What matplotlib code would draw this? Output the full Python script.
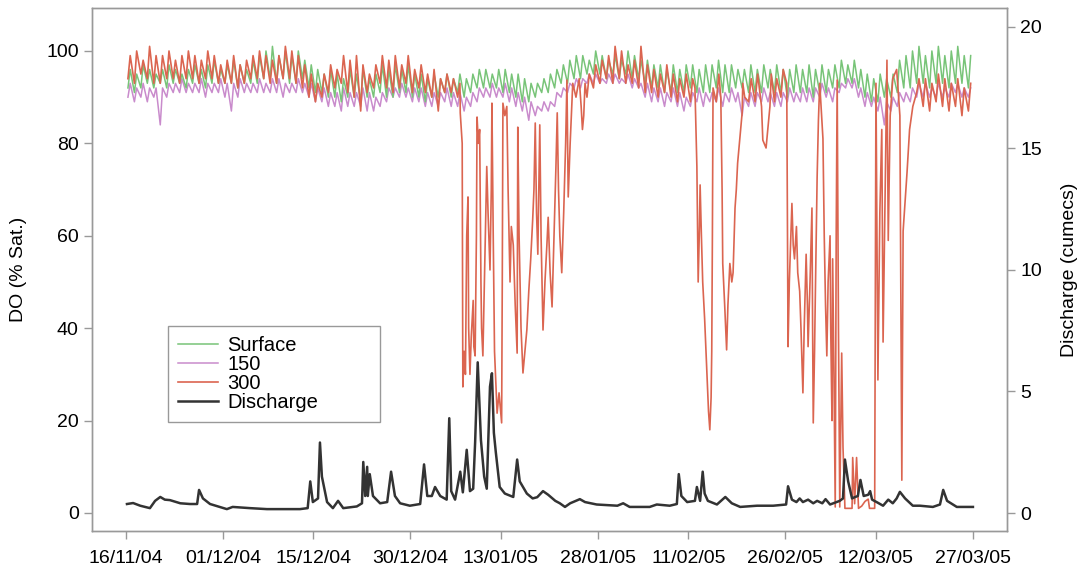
import pandas as pd
import matplotlib
matplotlib.use("Agg")
import matplotlib.pyplot as plt

plt.rcParams['font.family'] = ['Liberation Sans', 'DejaVu Sans']

start = pd.Timestamp("2004-11-16")

tick_labels = ["16/11/04", "01/12/04", "15/12/04", "30/12/04", "13/01/05",
               "28/01/05", "11/02/05", "26/02/05", "12/03/05", "27/03/05"]

# Surface: daily peak / trough (% sat), day 0..130
surface_peak = [96, 95, 97, 96, 95, 96, 97, 96, 95, 96, 97, 96, 97, 98, 96,
                97, 98, 97, 96, 98, 99, 100, 101, 99, 100, 99, 100, 98, 97, 96,
                95, 96, 95, 94, 96, 95, 96, 94, 95, 97, 96, 97, 96, 97, 95,
                95, 94, 95, 94, 95, 94, 95, 94, 95, 96, 96, 95, 96, 96, 95,
                95, 94, 93, 93, 94, 95, 96, 97, 98, 99, 99, 98, 100, 99, 98,
                99, 98, 100, 99, 98, 98, 97, 97, 96, 97, 96, 97, 97, 96, 97,
                97, 98, 97, 97, 96, 96, 97, 96, 97, 96, 97, 96, 96, 97, 96,
                97, 96, 97, 96, 97, 98, 97, 98, 96, 95, 94, 95, 94, 95, 98,
                99, 100, 101, 99, 100, 101, 99, 100, 101, 99, 99]
surface_trough = [92, 91, 92, 93, 92, 93, 92, 93, 93, 92, 93, 93, 92, 93, 93,
                  93, 93, 92, 93, 93, 93, 94, 94, 93, 94, 93, 93, 94, 92, 91,
                  91, 90, 90, 89, 90, 90, 89, 90, 90, 91, 90, 90, 91, 91, 90,
                  90, 89, 90, 90, 91, 90, 91, 90, 91, 92, 92, 92, 92, 91, 91,
                  90, 89, 89, 90, 91, 91, 92, 93, 93, 94, 94, 95, 95, 95, 94,
                  95, 94, 95, 94, 94, 93, 92, 92, 91, 91, 91, 91, 92, 91, 91,
                  91, 92, 91, 91, 92, 92, 91, 91, 91, 92, 91, 91, 90, 91, 91,
                  91, 90, 91, 91, 92, 92, 93, 93, 92, 90, 89, 89, 90, 90, 91,
                  92, 92, 93, 93, 92, 93, 93, 92, 93, 93, 92]

# 150 mm depth: daily peak / trough
d150_peak = [93, 92, 93, 92, 92, 92, 93, 93, 94, 93, 93, 94, 93, 93, 94,
             93, 93, 94, 93, 93, 94, 93, 94, 94, 93, 93, 94, 93, 93, 92,
             92, 91, 91, 92, 91, 91, 92, 91, 90, 91, 92, 92, 93, 92, 92,
             92, 91, 91, 91, 92, 91, 91, 90, 91, 92, 92, 93, 92, 93, 92,
             91, 90, 89, 88, 89, 89, 91, 92, 93, 94, 94, 95, 95, 94, 95,
             95, 94, 95, 94, 93, 93, 92, 92, 91, 92, 91, 90, 91, 92, 91,
             91, 92, 91, 92, 91, 90, 91, 91, 92, 91, 91, 91, 92, 91, 92,
             92, 92, 93, 92, 92, 93, 94, 94, 92, 91, 90, 90, 89, 90, 91,
             91, 92, 93, 93, 92, 93, 92, 93, 93, 92, 92]
d150_trough = [90, 89, 90, 89, 90, 84, 90, 91, 91, 91, 91, 91, 90, 91, 91,
               90, 87, 90, 91, 91, 91, 91, 91, 91, 90, 91, 91, 91, 90, 89,
               89, 88, 88, 87, 88, 88, 88, 87, 87, 88, 89, 90, 90, 90, 89,
               89, 88, 88, 88, 89, 88, 88, 87, 88, 89, 90, 90, 90, 90, 89,
               88, 87, 85, 86, 87, 87, 88, 90, 91, 92, 92, 93, 93, 93, 93,
               93, 93, 93, 92, 92, 90, 89, 89, 88, 89, 88, 87, 88, 89, 88,
               89, 89, 88, 89, 89, 86, 88, 88, 89, 89, 88, 88, 89, 89, 89,
               89, 89, 90, 90, 89, 91, 92, 92, 90, 88, 88, 87, 84, 87, 88,
               89, 89, 90, 90, 90, 90, 90, 90, 91, 90, 90]

# 300 mm depth: diel periods (first day, peaks, troughs) and low-DO episodes
red_a_start = 0
red_a_peak = [99, 100, 98, 101, 99, 99, 100, 98, 99, 100, 99, 98, 100, 99, 97,
              98, 99, 97, 98, 99, 100, 99, 98, 99, 101, 100, 99, 97, 95, 93,
              95, 97, 96, 99, 98, 99, 97, 95, 97, 99, 98, 99, 97, 99, 96,
              97, 95, 96, 94, 95, 94, 93]
red_a_trough = [94, 93, 95, 94, 93, 93, 94, 94, 93, 94, 94, 93, 94, 94, 93,
                93, 93, 92, 93, 94, 94, 94, 93, 93, 94, 94, 93, 92, 90, 89,
                90, 91, 92, 93, 91, 90, 87, 91, 92, 93, 92, 91, 92, 93, 91,
                92, 91, 90, 87, 91, 91, 90]
red_b_start = 71
red_b_peak = [95, 97, 98, 99, 101, 100, 97, 98, 101, 97, 96, 95, 97, 95, 94, 95, 94]
red_b_trough = [90, 92, 93, 94, 93, 94, 93, 93, 92, 91, 91, 90, 91, 90, 89, 90, 89]
red_c_start = 100
red_c_peak = [94, 96]
red_c_trough = [89, 90]
red_d_start = 123
red_d_peak = [94, 93, 95, 94, 93, 94, 92, 93]
red_d_trough = [88, 87, 89, 88, 87, 88, 86, 87]

dip1_days = [51.7, 51.9, 52.0, 52.1, 52.3, 52.5, 52.7, 52.9, 53.0, 53.2, 53.4,
             53.7, 53.8, 54.0, 54.2, 54.3, 54.5, 54.7, 54.9, 55.0, 55.2, 55.4,
             55.6, 55.8, 56.0, 56.3, 56.5, 56.6, 56.8, 57.0, 57.2, 57.4, 57.7,
             58.1, 58.2, 58.3, 58.6, 58.9, 59.1, 59.4, 59.6, 59.9, 60.2, 60.5,
             60.6, 60.8, 61.1, 61.4, 61.7, 62.0, 62.3, 62.6, 62.9, 63.1, 63.3,
             63.5, 63.7, 63.9, 64.0, 64.2, 64.5, 64.8, 65.1, 65.3, 65.6, 65.9,
             66.2, 66.5, 66.7, 66.9, 67.1, 67.4, 67.7, 68.0, 68.2, 68.4, 68.7,
             69.1, 69.6, 70.1, 70.4, 70.6, 70.8, 71.0]
dip1_vals = [86.6, 82, 80, 27.3, 35, 30, 60, 68.4, 40, 30, 38,
             46, 36, 34, 60, 85.7, 80, 83, 50, 40, 34, 48,
             62, 75, 65, 52.6, 70, 88.7, 60, 35, 28, 21.6, 26,
             19.5, 50, 88.7, 86, 88, 70, 50, 62, 58, 45, 34.6,
             83.5, 60, 40, 30.3, 35, 39.6, 48, 55, 63.4, 70, 84.4,
             65, 56, 75, 84, 60, 39.6, 50, 58, 64, 52, 44.6,
             60, 75, 86.6, 70, 60, 52, 65, 80, 93.7, 68.4, 80,
             93, 90, 94, 88, 83, 86, 93]
dip2_days = [88.0, 88.3, 88.5, 88.7, 88.8, 89.0, 89.2, 89.5, 89.9, 90.1, 90.3,
             90.5, 90.6, 90.7, 90.8, 91.3, 91.7, 92.0, 92.2, 92.3, 92.6, 92.9,
             93.1, 93.4, 93.7, 93.9, 94.2, 94.4, 94.6, 95.0, 95.3, 95.4, 95.7,
             96.3, 96.7, 97.3, 97.7, 98.3, 98.5, 99.0, 99.6, 99.8]
dip2_vals = [92, 75, 50, 62, 71, 60, 50, 42, 28.8, 22, 18,
             25, 35, 60, 92, 89, 95, 90, 70, 54, 45, 35.3,
             45, 54, 50, 52, 66, 70, 75.7, 82, 86.6, 93, 90,
             89, 94, 89, 95, 88, 80.7, 79, 88, 95]
dip3_days = [102.2, 102.4, 102.6, 103.0, 103.2, 103.4, 103.7, 103.9, 104.2,
             104.4, 104.7, 104.9, 105.2, 105.4, 105.5, 105.8, 106.1, 106.2,
             106.3, 106.5, 106.6, 106.9, 107.1, 107.3, 107.6, 107.8, 108.0,
             108.2, 108.4, 108.6, 108.9, 109.0, 109.2, 109.3, 109.5, 109.7,
             109.85, 110.0, 110.2, 110.4, 110.7, 110.9, 111.2, 112.3, 112.4,
             112.7, 113.0, 113.3, 113.8, 114.3, 114.8, 115.0, 115.8, 116.0,
             116.3, 116.6, 116.9, 117.1, 117.7, 117.9, 118.2, 118.6, 119.2,
             119.7, 120.0, 120.2, 120.8, 121.2, 121.7, 122.3, 122.65]
dip3_vals = [93, 36, 50, 67, 58, 55, 62, 52, 48,
             40, 26, 40, 56, 45, 36, 50, 66, 40,
             19.5, 35, 45, 72.7, 85, 93, 86, 81, 60,
             45, 34, 50, 60, 40, 20, 55, 30, 1.3,
             60, 93.7, 40, 1.3, 34.6, 14.3, 1, 1, 12,
             2, 12, 1, 1.5, 2.5, 3, 1, 1, 93,
             28.8, 65, 83, 37, 98, 59, 86, 94, 96,
             86, 7.1, 61, 73.6, 83, 88, 91, 94]

# Discharge (cumecs)
q_days = [0.15, 1.1, 2.2, 3.7, 4.5, 5.3, 6.0, 6.8, 8.4, 9.9, 11.0, 11.3, 11.9,
          13.0, 15.6, 16.5, 19.2, 21.8, 26.9, 28.1, 28.5, 28.9, 29.7, 30.0,
          30.3, 31.1, 32.0, 32.8, 33.6, 35.7, 36.5, 36.7, 37.0, 37.3, 37.4,
          37.7, 38.2, 39.3, 40.4, 41.0, 41.6, 42.4, 43.9, 45.5, 46.1, 46.6,
          47.3, 47.8, 48.6, 49.6, 50.0, 50.3, 50.9, 51.7, 52.1, 52.7, 53.2,
          53.7, 54.0, 54.4, 54.9, 55.4, 55.8, 56.3, 56.6, 56.9, 57.2, 57.8,
          58.6, 59.9, 60.5, 60.9, 62.0, 62.9, 63.6, 64.5, 65.3, 66.4, 67.1,
          67.9, 68.7, 70.2, 71.0, 72.8, 76.0, 76.9, 77.9, 81.0, 82.1, 84.1,
          85.2, 85.5, 85.9, 86.8, 88.0, 88.3, 88.8, 89.2, 89.5, 90.0, 91.4,
          92.7, 93.7, 95.0, 97.6, 100.1, 102.1, 102.4, 103.0, 103.7, 104.2,
          104.7, 105.5, 106.3, 106.9, 107.7, 108.2, 108.9, 110.4, 110.9,
          111.2, 111.7, 112.3, 112.7, 113.2, 113.6, 114.1, 114.8, 115.1,
          115.4, 116.1, 117.1, 117.9, 118.6, 119.2, 119.7, 120.5, 121.7,
          122.8, 124.8, 125.9, 126.4, 127.0, 128.5, 131.0]
q_vals = [0.37, 0.41, 0.3, 0.2, 0.5, 0.66, 0.55, 0.53, 0.4, 0.37, 0.37, 0.95, 0.6,
          0.37, 0.16, 0.25, 0.2, 0.16, 0.16, 0.2, 1.3, 0.45, 0.6, 2.9,
          1.5, 0.45, 0.2, 0.5, 0.2, 0.27, 0.4, 2.1, 0.7, 1.9, 0.7,
          1.6, 0.7, 0.4, 0.45, 1.7, 0.7, 0.4, 0.3, 0.37, 2.0, 0.7,
          0.7, 1.07, 0.7, 0.55, 3.9, 0.9, 0.55, 1.7, 0.85, 2.6, 0.9,
          1.0, 2.9, 6.2, 3.0, 1.5, 1.0, 5.2, 5.75, 3.3, 2.5, 1.07,
          0.8, 0.66, 2.2, 1.3, 0.8, 0.6, 0.65, 0.9, 0.75, 0.5, 0.4,
          0.25, 0.4, 0.57, 0.45, 0.35, 0.3, 0.4, 0.25, 0.25, 0.35, 0.3,
          0.37, 1.6, 0.7, 0.45, 0.5, 1.07, 0.5, 1.7, 0.8, 0.5, 0.35,
          0.66, 0.4, 0.25, 0.3, 0.3, 0.35, 1.1, 0.55, 0.45, 0.6,
          0.45, 0.55, 0.4, 0.5, 0.4, 0.57, 0.35, 0.5, 0.6,
          2.2, 1.3, 0.6, 0.65, 0.7, 1.36, 0.7, 0.75, 0.9,
          0.55, 0.45, 0.3, 0.55, 0.4, 0.6, 0.87, 0.6, 0.3,
          0.3, 0.25, 0.35, 0.95, 0.5, 0.25, 0.25]


def diel(first_day, peaks, troughs):
    days, vals = [], []
    for i, (p, t) in enumerate(zip(peaks, troughs)):
        days += [first_day + i + 0.3, first_day + i + 0.65]
        vals += [t, p]
    return days, vals


def to_dates(days):
    return start + pd.to_timedelta(days, unit="D")


s_days, s_vals = diel(0, surface_peak, surface_trough)
m_days, m_vals = diel(0, d150_peak, d150_trough)

r_days, r_vals = [], []
for part in [diel(red_a_start, red_a_peak, red_a_trough), (dip1_days, dip1_vals),
             diel(red_b_start, red_b_peak, red_b_trough), (dip2_days, dip2_vals),
             diel(red_c_start, red_c_peak, red_c_trough), (dip3_days, dip3_vals),
             diel(red_d_start, red_d_peak, red_d_trough)]:
    r_days += list(part[0])
    r_vals += list(part[1])

fig = plt.figure(figsize=(10.81, 5.72), dpi=100)
ax = fig.add_axes([0.0851, 0.0717, 0.8464, 0.9143])
ax2 = ax.twinx()

l150, = ax.plot(to_dates(m_days), m_vals, color="#c98bcc", lw=1.1, label="150")
lsurf, = ax.plot(to_dates(s_days), s_vals, color="#78c478", lw=1.1, label="Surface")
l300, = ax.plot(to_dates(r_days), r_vals, color="#db6550", lw=1.2, label="300")
lq, = ax2.plot(to_dates(q_days), q_vals, color="#333333", lw=1.8, label="Discharge")

ax.set_ylim(-3.9, 109.3)
ax2.set_ylim(-0.74, 20.78)
ax.set_yticks([0, 20, 40, 60, 80, 100])
ax2.set_yticks([0, 5, 10, 15, 20])

tick_dates = pd.to_datetime(tick_labels, format="%d/%m/%y")
ax.set_xlim(start - pd.Timedelta(days=5.26), tick_dates[-1] + pd.Timedelta(days=5.26))
ax.set_xticks(tick_dates)
ax.set_xticklabels(tick_labels)

for a in (ax, ax2):
    for sp in a.spines.values():
        sp.set_color("#999999")
        sp.set_linewidth(1.0)
    a.tick_params(direction="out", length=6, width=1, color="#999999",
                  labelsize=14, labelcolor="black")
ax.tick_params(axis="x", pad=8)

ax.set_ylabel("DO (% Sat.)", fontsize=14, labelpad=14)
ax2.set_ylabel("Discharge (cumecs)", fontsize=14, labelpad=14)

leg = ax2.legend([lsurf, l150, l300, lq], ["Surface", "150", "300", "Discharge"],
                 loc="upper left", bbox_to_anchor=(0.083, 0.214, 0.232, 0.178),
                 mode="expand", fontsize=14.5, frameon=True, fancybox=False,
                 framealpha=1, edgecolor="#999999", labelspacing=0.0,
                 handlelength=2.0, handletextpad=0.45, borderpad=0.5,
                 borderaxespad=0)
leg.get_frame().set_linewidth(1.0)

fig.savefig("out.png", dpi=100)
